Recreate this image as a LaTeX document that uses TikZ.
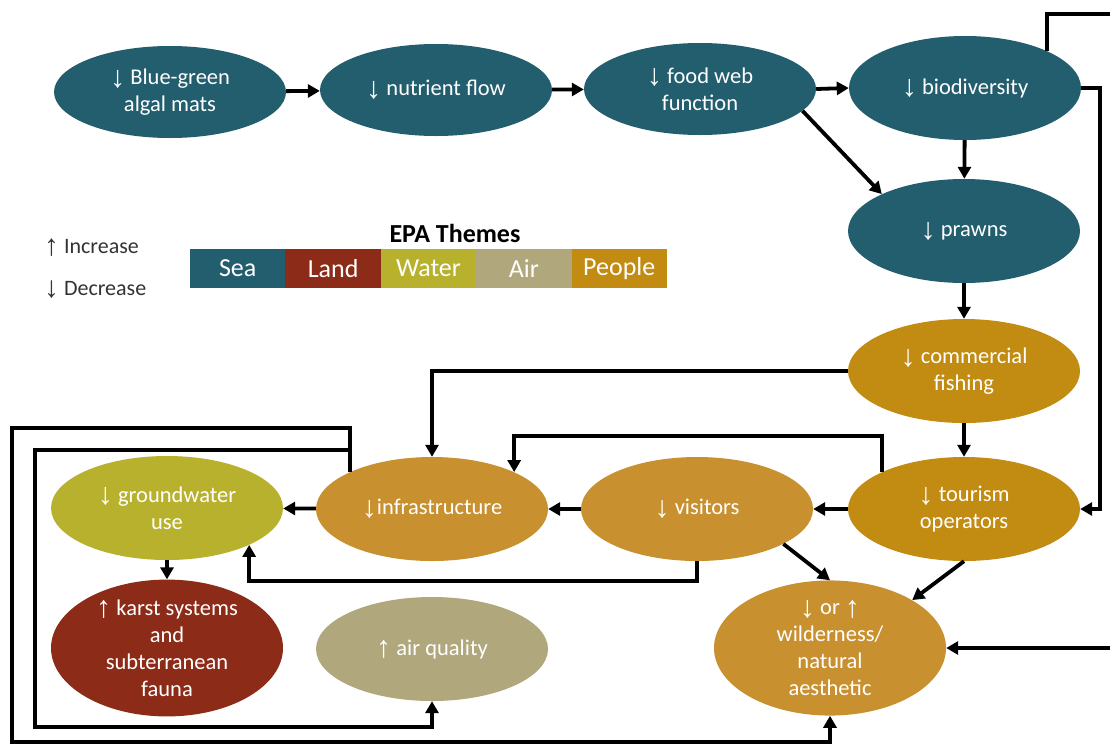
\documentclass[tikz,border=0pt]{standalone}
\usepackage{fontspec}
\setmainfont{Carlito}
\newfontfamily\arrowfont{Liberation Sans}
\usetikzlibrary{shapes.geometric,arrows.meta}
\definecolor{sea}{HTML}{235E6E}
\definecolor{land}{HTML}{8B2B18}
\definecolor{water}{HTML}{B7B12D}
\definecolor{air}{HTML}{B1A77C}
\definecolor{people}{HTML}{C28B12}
\definecolor{peoplelt}{HTML}{C8902E}
\definecolor{legtext}{HTML}{333333}
% thin up/down arrows, enlarged to sit with the label text
\newcommand\arrdn{\raisebox{-0.12em}{\scalebox{1.35}{\arrowfont\char"2193}}}
\newcommand\arrup{\raisebox{-0.12em}{\scalebox{1.35}{\arrowfont\char"2191}}}
\tikzset{
  bub/.style={ellipse, minimum width=232pt, minimum height=104pt, inner sep=0pt,
    text=white, align=center, font=\fontsize{22.5}{27}\selectfont},
  flat/.style={bub, minimum height=92pt},
  flow/.style={line width=3.8pt, draw=black, -{Triangle[length=12pt,width=13pt]}},
  swatch/.style={minimum width=95.4pt, minimum height=39pt, inner sep=0pt,
    text=white, font=\fontsize{26}{28}\selectfont},
  legtxt/.style={anchor=west, text=legtext, font=\fontsize{22}{24}\selectfont, inner sep=0pt}
}
\begin{document}
\begin{tikzpicture}[x=1pt,y=-1pt]
\useasboundingbox (0,0) rectangle (1110,747);
\fill[white] (0,0) rectangle (1110,747);

% Sea chain
\node[flat, fill=sea] (algae) at (170,92) {\arrdn\ Blue-green\\algal mats};
\node[flat, fill=sea] (nutr) at (436,90) {\arrdn\ nutrient flow};
\node[flat, fill=sea] (food) at (700,89) {\arrdn\ food web\\function};
\node[bub, fill=sea] (bio) at (965,88) {\arrdn\ biodiversity};
\node[bub, fill=sea] (prawn) at (964,231) {\arrdn\ prawns};

% People
\node[bub, fill=people] (fish) at (964,371) {\arrdn\ commercial\\fishing};
\node[bub, fill=people] (tour) at (964,509) {\arrdn\ tourism\\operators};
\node[bub, fill=peoplelt] (vis) at (697,509) {\arrdn\ visitors};
\node[bub, fill=peoplelt] (infra) at (432,509) {\arrdn{}infrastructure};
\node[bub, fill=peoplelt] (wild) at (830,648) {\arrdn\ or \arrup\\wilderness/\\natural\\aesthetic};

% Water, land, air
\node[bub, fill=water] (ground) at (167,508) {\arrdn\ groundwater\\use};
\node[bub, fill=land] (karst) at (167,648) {\arrup\ karst systems\\and\\subterranean\\fauna};
\node[bub, fill=air] (airq) at (432,649) {\arrup\ air quality};

% Legend
\node[legtxt] (inc) at (44,248) {\arrup\ Increase};
\node[legtxt] (dec) at (44,290) {\arrdn\ Decrease};
\node[font=\fontsize{26}{28}\selectfont\bfseries, text=black] (epa) at (455,233) {EPA Themes};
\node[swatch, fill=sea] (lsea) at (237.7,268.5) {Sea};
\node[swatch, fill=land] (lland) at (333.1,268.5) {Land};
\node[swatch, fill=water] (lwater) at (428.5,268.5) {Water};
\node[swatch, fill=air] (lair) at (523.9,268.5) {Air};
\node[swatch, fill=people] (lpeople) at (619.3,268.5) {People};

% Main chain
\draw[flow] (algae) -- (nutr);
\draw[flow] (nutr) -- (food);
\draw[flow] (food.east) -- (bio.west);
\draw[flow] (food.-12) -- (prawn.north west);
\draw[flow] (bio) -- (prawn);
\draw[flow] (prawn) -- (fish);
\draw[flow] (fish) -- (tour);
\draw[flow] (fish.west) -| (infra.north);
\draw[flow] (tour.north west) -- ++(0,-36) -| (infra.north east);
\draw[flow] (tour) -- (vis);
\draw[flow] (vis) -- (infra);
\draw[flow] (infra) -- (ground);
\draw[flow] (vis.south) -- ++(0,20) -| (ground.south east);
\draw[flow] (ground) -- (karst);
\draw[flow] (vis.-22) -- (wild.north);
\draw[flow] (tour.south) -- (wild.north east);
\draw[flow] (bio.east) -- ++(19,0) |- (tour.east);

% Long loops
\coordinate (outerbend) at (12,742);
\coordinate (innerbend) at (35,727);
\coordinate (farright) at (1130,14);
\draw[flow] (infra.north west) -- ++(0,-44) -| (outerbend) -| (wild.south);
\draw[flow] (infra.north west) -- ++(0,-22) -| (innerbend) -| (airq.south);
\draw[flow] (bio.north east) |- (farright) |- (wild.east);
\end{tikzpicture}
\end{document}
